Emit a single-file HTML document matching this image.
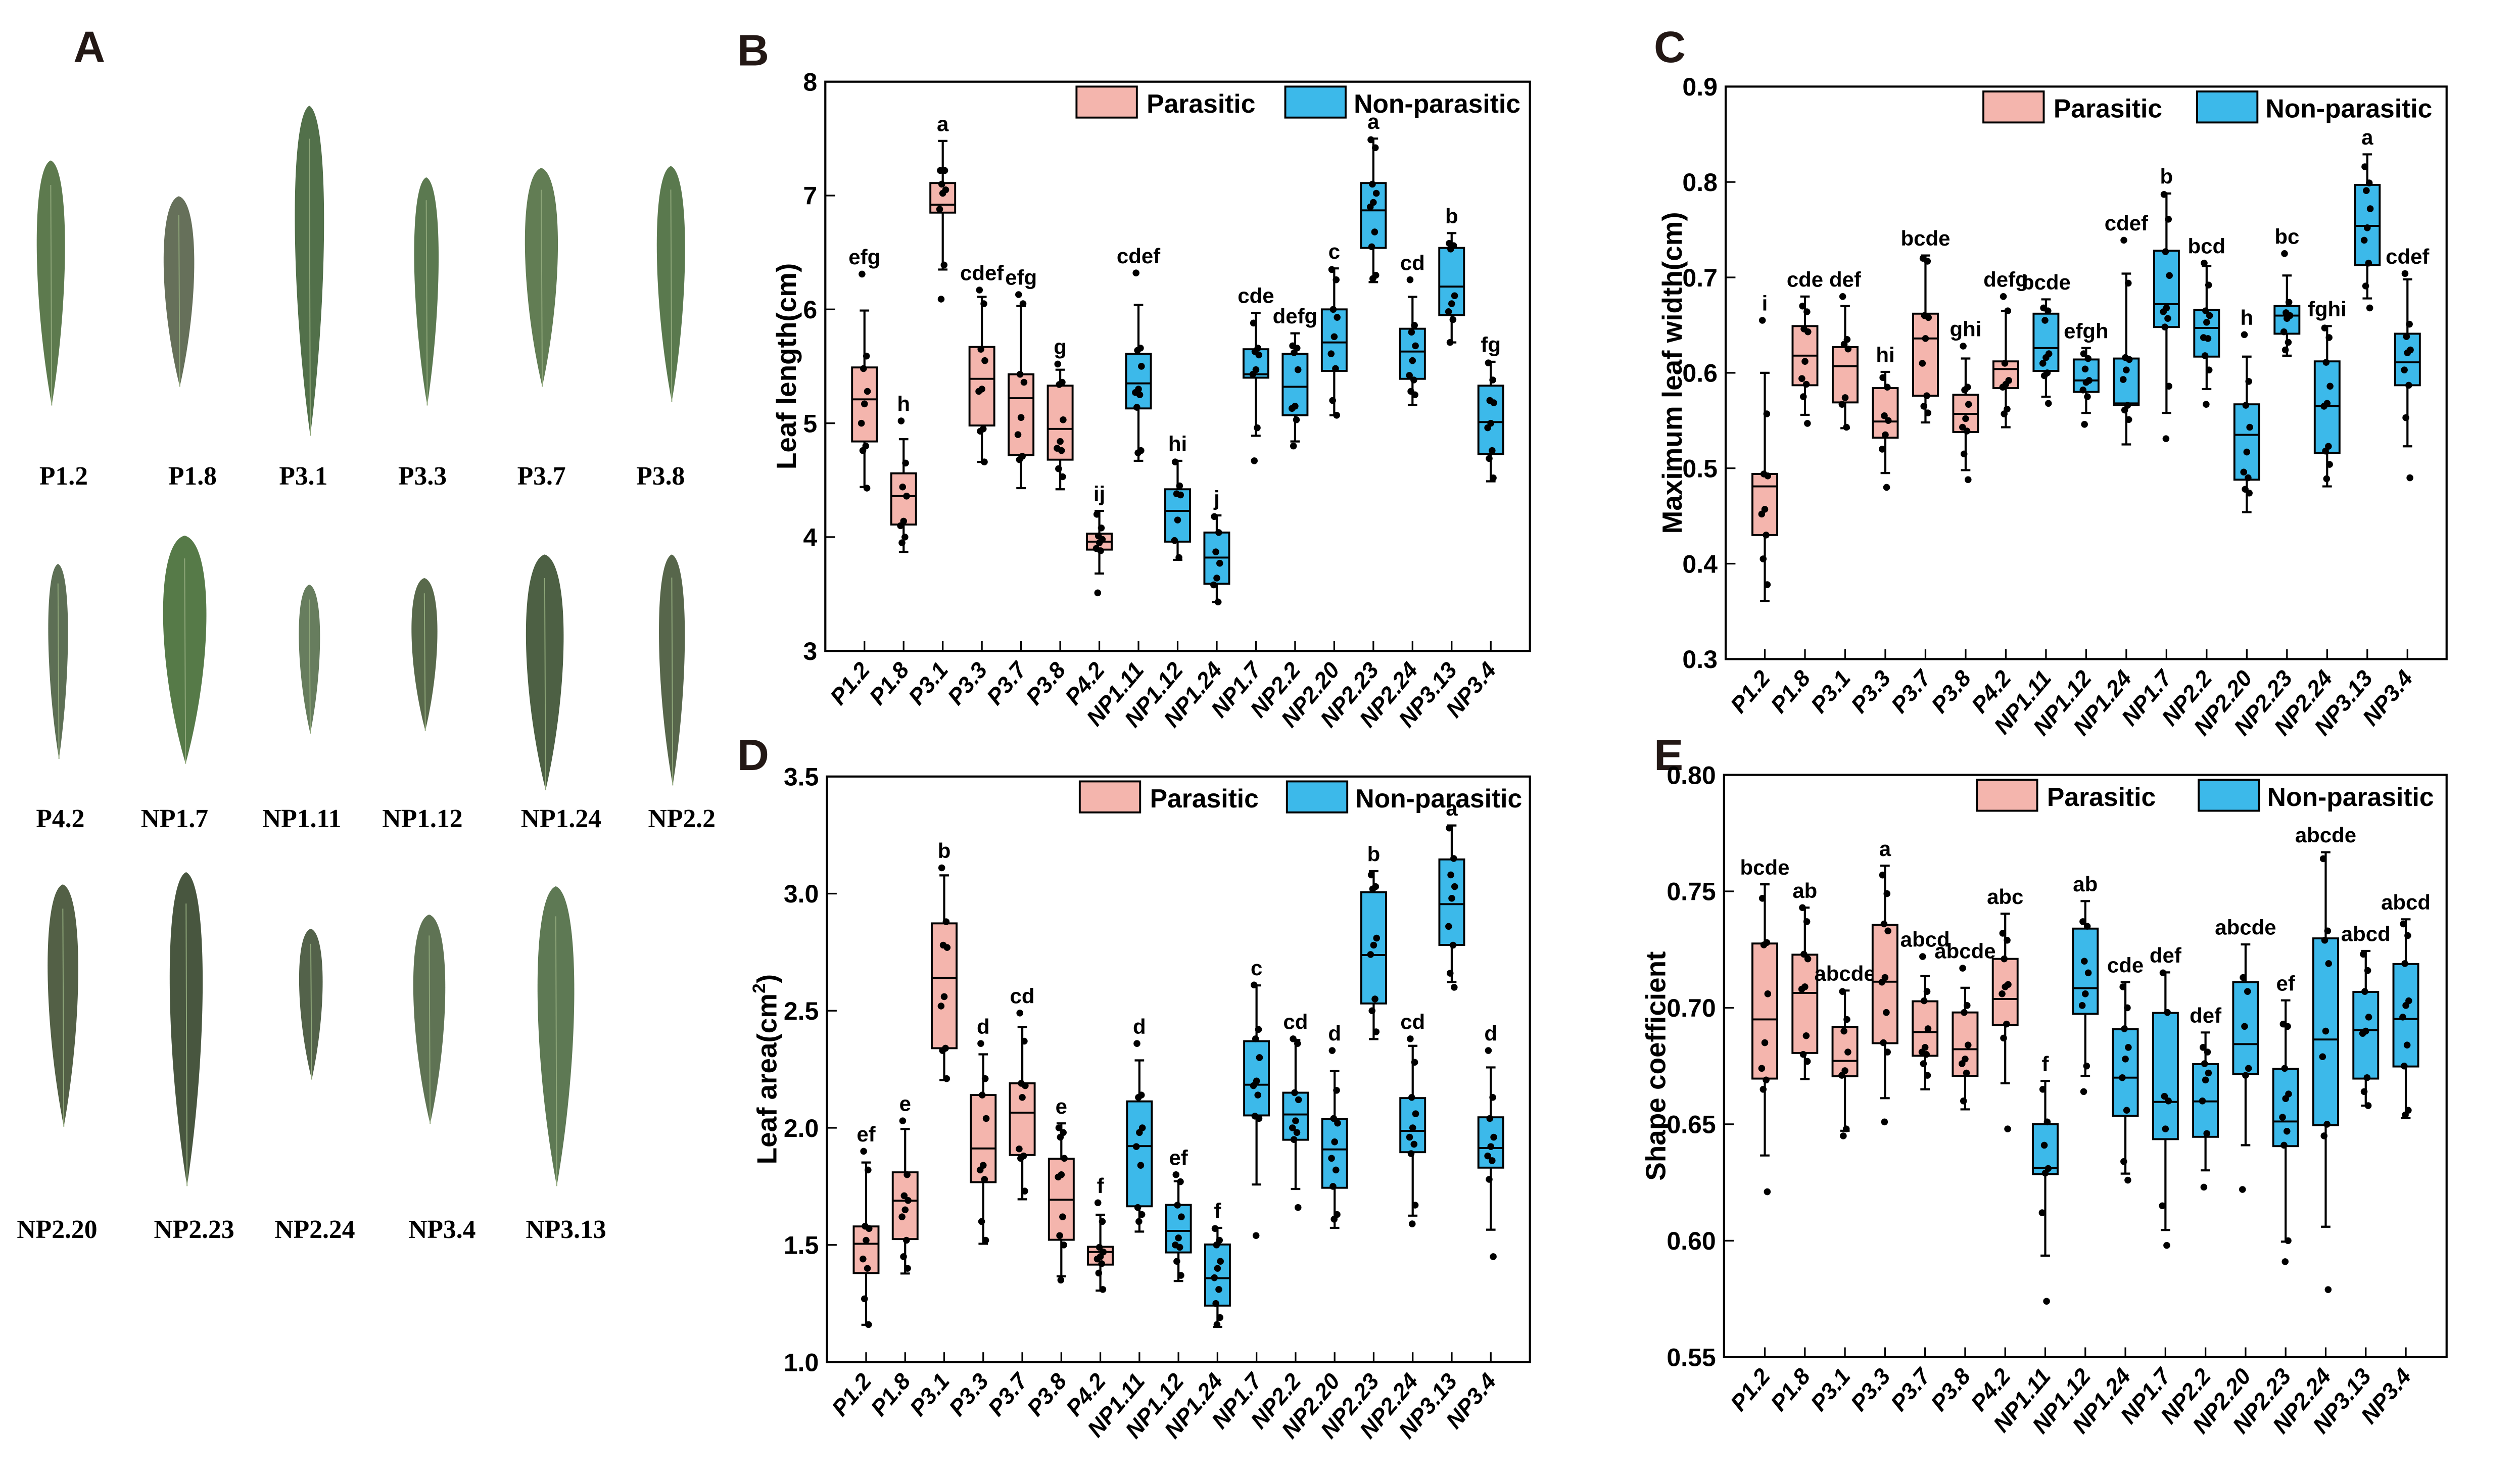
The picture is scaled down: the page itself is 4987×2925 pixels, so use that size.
<!DOCTYPE html>
<html><head><meta charset="utf-8"><style>
html,body{margin:0;padding:0;background:#fff;}
svg{display:block;}
</style></head><body>
<svg id="fig" width="4987" height="2925" viewBox="0 0 1545 906" xmlns="http://www.w3.org/2000/svg" font-family="'Liberation Sans', Arial, sans-serif">
<rect width="1545" height="906" fill="#fff"/>
<g id="panelA"></g>
<g id="charts"></g>
</svg>
<script>
const NS="http://www.w3.org/2000/svg";
const cats=["P1.2","P1.8","P3.1","P3.3","P3.7","P3.8","P4.2","NP1.11","NP1.12","NP1.24","NP1.7","NP2.2","NP2.20","NP2.23","NP2.24","NP3.13","NP3.4"];
const parasitic=[1,1,1,1,1,1,1,0,0,0,0,0,0,0,0,0,0];

// Panel B: leaf length
const bQ1=[4.84,4.11,6.85,4.98,4.72,4.68,3.89,5.13,3.96,3.59,5.40,5.07,5.46,6.54,5.39,5.95,4.73];
const bMed=[5.21,4.36,6.92,5.39,5.22,4.95,3.96,5.35,4.23,3.82,5.43,5.32,5.71,6.87,5.63,6.20,5.01];
const bQ3=[5.49,4.56,7.11,5.67,5.43,5.33,4.03,5.61,4.42,4.04,5.65,5.61,6.00,7.11,5.83,6.54,5.33];
const bLo=[4.44,3.87,6.35,4.66,4.43,4.42,3.68,4.67,3.80,3.43,4.89,4.84,5.07,6.24,5.16,5.71,4.49];
const bHi=[5.99,4.86,7.48,6.11,6.03,5.47,4.23,6.04,4.67,4.19,5.97,5.79,6.36,7.50,6.11,6.67,5.54];
const bPts=[[6.31,5.59,5.48,5.28,5.17,5.0,4.8,4.76,4.43],[5.02,4.65,4.44,4.36,4.14,4.1,4.0,3.95],[7.22,7.22,7.1,7.05,7.02,6.88,6.39,6.09],[6.17,6.05,5.65,5.55,5.3,5.28,4.95,4.93,4.66],[6.13,6.05,5.43,5.36,5.05,4.9,4.71,4.68],[5.52,5.36,5.34,5.03,4.84,4.78,4.76,4.6,4.53],[4.2,4.08,4.01,3.98,3.95,3.9,3.88,3.51],[6.32,5.66,5.64,5.5,5.3,5.27,5.25,5.14,4.76,4.74],[4.66,4.45,4.38,4.37,4.15,3.97,3.82],[4.18,4.04,3.87,3.77,3.64,3.58,3.43],[5.88,5.66,5.63,5.6,5.47,5.43,4.96,4.67],[5.68,5.66,5.62,5.47,5.15,5.13,5.03,4.8],[6.35,6.26,6.0,5.93,5.76,5.61,5.48,5.2,5.07],[7.49,7.42,7.1,7.02,6.94,6.9,6.68,6.55,6.3,6.27],[6.26,5.86,5.8,5.68,5.55,5.42,5.38,5.28,5.25],[6.58,6.56,6.53,6.12,6.05,5.98,5.91,5.71],[5.53,5.38,5.2,5.18,5.0,4.96,4.76,4.69,4.52]];
const bLetters=["efg","h","a","cdef","efg","g","ij","cdef","hi","j","cde","defg","c","a","cd","b","fg"];
const bTicks=["3","4","5","6","7","8"];

// Panel C: maximum leaf width
const cQ1=[0.430,0.587,0.569,0.532,0.576,0.538,0.584,0.602,0.580,0.566,0.648,0.617,0.488,0.641,0.516,0.713,0.587];
const cMed=[0.481,0.618,0.607,0.549,0.636,0.557,0.604,0.626,0.592,0.568,0.672,0.647,0.535,0.660,0.565,0.754,0.611];
const cQ3=[0.494,0.649,0.627,0.584,0.662,0.577,0.612,0.662,0.614,0.615,0.728,0.666,0.567,0.670,0.612,0.797,0.641];
const cLo=[0.361,0.556,0.542,0.495,0.548,0.498,0.543,0.575,0.558,0.525,0.558,0.583,0.454,0.618,0.481,0.678,0.523];
const cHi=[0.600,0.680,0.670,0.601,0.723,0.615,0.665,0.677,0.626,0.704,0.788,0.712,0.617,0.702,0.649,0.829,0.698];
const cPts=[[0.655,0.557,0.494,0.492,0.457,0.452,0.43,0.405,0.378],[0.67,0.664,0.646,0.643,0.612,0.594,0.588,0.575,0.547],[0.68,0.635,0.63,0.625,0.574,0.567,0.543],[0.595,0.585,0.555,0.55,0.535,0.52,0.48],[0.72,0.717,0.66,0.658,0.636,0.61,0.576,0.565,0.558],[0.628,0.585,0.582,0.567,0.552,0.543,0.539,0.515,0.488],[0.68,0.665,0.61,0.592,0.588,0.585,0.562,0.557],[0.668,0.665,0.655,0.62,0.616,0.61,0.6,0.597,0.568],[0.62,0.615,0.604,0.592,0.59,0.582,0.575,0.546],[0.739,0.694,0.616,0.614,0.603,0.593,0.566,0.561,0.551],[0.787,0.761,0.727,0.702,0.668,0.664,0.657,0.648,0.586,0.531],[0.715,0.692,0.665,0.66,0.653,0.637,0.636,0.618,0.603,0.567],[0.64,0.591,0.566,0.543,0.517,0.496,0.49,0.478,0.474],[0.725,0.674,0.663,0.66,0.657,0.643,0.632,0.624],[0.647,0.637,0.611,0.586,0.568,0.565,0.523,0.518,0.504,0.489],[0.816,0.799,0.791,0.772,0.752,0.739,0.715,0.691,0.668],[0.704,0.651,0.638,0.624,0.621,0.603,0.587,0.553,0.49]];
const cLetters=["i","cde","def","hi","bcde","ghi","defg","bcde","efgh","cdef","b","bcd","h","bc","fghi","a","cdef"];
const cTicks=["0.3","0.4","0.5","0.6","0.7","0.8","0.9"];

// Panel D: leaf area
const dQ1=[1.38,1.525,2.34,1.768,1.884,1.522,1.416,1.665,1.468,1.241,2.053,1.949,1.744,2.531,1.896,2.781,1.83];
const dMed=[1.505,1.689,2.64,1.912,2.065,1.693,1.47,1.922,1.56,1.358,2.184,2.057,1.908,2.738,1.987,2.955,1.914];
const dQ3=[1.579,1.81,2.873,2.14,2.19,1.868,1.492,2.113,1.671,1.502,2.37,2.15,2.037,3.006,2.127,3.146,2.045];
const dLo=[1.159,1.378,2.204,1.505,1.695,1.366,1.305,1.557,1.346,1.15,1.758,1.739,1.573,2.379,1.625,2.622,1.565];
const dHi=[1.852,1.995,3.078,2.314,2.431,2.019,1.629,2.288,1.772,1.573,2.608,2.375,2.242,3.096,2.35,3.291,2.258];
const dPts=[[1.9,1.82,1.58,1.57,1.52,1.44,1.4,1.27,1.16],[2.03,1.8,1.71,1.69,1.65,1.62,1.52,1.45,1.4],[3.11,2.88,2.78,2.77,2.56,2.52,2.34,2.33,2.21],[2.36,2.21,2.14,2.04,1.84,1.82,1.78,1.6,1.52],[2.49,2.37,2.19,2.18,2.13,1.91,1.88,1.87,1.73],[2.0,1.98,1.96,1.87,1.8,1.79,1.62,1.54,1.5,1.35],[1.68,1.6,1.49,1.47,1.45,1.44,1.42,1.38,1.31],[2.36,2.14,2.13,2.0,1.98,1.92,1.84,1.66,1.63,1.6],[1.8,1.77,1.67,1.62,1.53,1.5,1.49,1.43,1.37],[1.57,1.52,1.5,1.43,1.4,1.36,1.31,1.25,1.19,1.16],[2.61,2.42,2.38,2.3,2.2,2.18,2.14,2.05,2.04,1.54],[2.38,2.36,2.15,2.12,2.03,2.0,1.98,1.95,1.66],[2.33,2.16,2.04,2.02,1.94,1.87,1.82,1.75,1.63,1.61],[3.08,3.03,3.02,2.81,2.78,2.74,2.55,2.5,2.41],[2.38,2.28,2.13,2.06,2.0,1.96,1.93,1.89,1.67,1.59],[3.28,3.15,3.08,3.03,2.98,2.86,2.78,2.66,2.6],[2.33,2.13,2.04,1.96,1.92,1.88,1.86,1.78,1.45]];
const dLetters=["ef","e","b","d","cd","e","f","d","ef","f","c","cd","d","b","cd","a","d"];
const dTicks=["1.0","1.5","2.0","2.5","3.0","3.5"];

// Panel E: shape coefficient
const eQ1=[0.6696,0.6806,0.6706,0.6848,0.6794,0.6708,0.6926,0.6286,0.6974,0.6536,0.6436,0.6446,0.6716,0.6406,0.6496,0.6696,0.6748];
const eMed=[0.695,0.7064,0.6772,0.7112,0.6896,0.6822,0.7038,0.6312,0.7084,0.67,0.6596,0.6598,0.6844,0.6512,0.6864,0.6904,0.6952];
const eQ3=[0.7276,0.7228,0.6918,0.7356,0.7028,0.698,0.721,0.65,0.734,0.6908,0.6978,0.6758,0.711,0.6738,0.7298,0.7068,0.7188];
const eLo=[0.6366,0.6694,0.6472,0.6612,0.665,0.6564,0.6676,0.5936,0.6708,0.6288,0.6046,0.6302,0.641,0.5996,0.606,0.658,0.6526];
const eHi=[0.753,0.743,0.7074,0.761,0.7136,0.7086,0.7404,0.6686,0.7458,0.711,0.7152,0.6894,0.7272,0.7032,0.7668,0.7244,0.738];
const ePts=[[0.747,0.728,0.727,0.706,0.685,0.674,0.669,0.665,0.621],[0.743,0.737,0.723,0.721,0.709,0.708,0.688,0.68,0.677],[0.707,0.695,0.69,0.681,0.673,0.671,0.648,0.645],[0.757,0.749,0.736,0.733,0.713,0.711,0.698,0.685,0.681,0.651],[0.722,0.707,0.703,0.691,0.683,0.681,0.68,0.676,0.671],[0.717,0.701,0.698,0.684,0.678,0.676,0.672,0.66],[0.732,0.729,0.721,0.71,0.709,0.706,0.693,0.687,0.648],[0.665,0.651,0.641,0.631,0.629,0.612,0.574],[0.737,0.735,0.72,0.715,0.706,0.701,0.675,0.664],[0.709,0.7,0.691,0.683,0.678,0.67,0.656,0.634,0.626],[0.715,0.698,0.662,0.66,0.648,0.615,0.598],[0.683,0.681,0.676,0.672,0.669,0.66,0.646,0.623],[0.713,0.707,0.692,0.674,0.671,0.622],[0.693,0.692,0.674,0.663,0.661,0.653,0.647,0.641,0.6,0.591],[0.764,0.733,0.729,0.719,0.69,0.679,0.65,0.645,0.579],[0.723,0.716,0.707,0.696,0.69,0.689,0.67,0.664,0.658],[0.736,0.731,0.719,0.703,0.701,0.696,0.684,0.675,0.656,0.654]];
const eLetters=["bcde","ab","abcde","a","abcd","abcde","abc","f","ab","cde","def","def","abcde","ef","abcde","abcd","abcd"];
const eTicks=["0.55","0.60","0.65","0.70","0.75","0.80"];

const PINK="#f4b5ad", BLUE="#3cb9ea";
const root=document.getElementById('charts');
function el(tag,attrs,parent){const e=document.createElementNS(NS,tag);for(const k in attrs)e.setAttribute(k,attrs[k]);(parent||root).appendChild(e);return e;}

function drawPanel(cfg){
  const g=el('g',{});
  
  
  const n=cats.length;
  const x=i=>cfg.fx+(cfg.lx-cfg.fx)*i/(n-1);
  const y=v=>cfg.y1-(v-cfg.vmin)/(cfg.vmax-cfg.vmin)*(cfg.y1-cfg.y0);
  const pl=el('text',{x:cfg.letterX,y:cfg.letterY,'font-size':27,'font-weight':'bold',fill:'#231815'},g);
  pl.textContent=cfg.letter;
  
  
  cfg.ticks.forEach(t=>{
    const v=parseFloat(t), yy=y(v);
    const tl=el('line',{x1:cfg.x0,x2:cfg.x0+6,y1:yy,y2:yy,stroke:'#000','stroke-width':1},g);
    
    
    const tx=el('text',{x:cfg.x0-5,y:yy+5.5,'font-size':15.5,'font-weight':'bold','text-anchor':'end'},g);
    tx.textContent=t;
    
    
  });
  const cy=(cfg.y0+cfg.y1)/2;
  const at=el('text',{x:cfg.titleX,y:cy,'font-size':17,'font-weight':'bold','text-anchor':'middle',transform:`rotate(-90 ${cfg.titleX} ${cy})`},g);
  if(cfg.sup){at.textContent=cfg.title;const ts=el('tspan',{'font-size':11,dy:-7},at);ts.textContent='2';const ts2=el('tspan',{dy:7},at);ts2.textContent=')';}
  else at.textContent=cfg.title;
  
  
  const hw=7.6, cap=2.9, jit=[-1.5,1.2,-0.6,1.8,0,-1.9,0.8,-1,1.5,-0.3];
  for(let i=0;i<n;i++){
    const cx=x(i);
    const bg=el('g',{},g);
    
    
    el('line',{x1:cx,x2:cx,y1:y(cfg.hi[i]),y2:y(cfg.lo[i]),stroke:'#000','stroke-width':1.3},bg);
    el('line',{x1:cx-cap,x2:cx+cap,y1:y(cfg.hi[i]),y2:y(cfg.hi[i]),stroke:'#000','stroke-width':1.3},bg);
    el('line',{x1:cx-cap,x2:cx+cap,y1:y(cfg.lo[i]),y2:y(cfg.lo[i]),stroke:'#000','stroke-width':1.3},bg);
    el('rect',{x:cx-hw,y:y(cfg.q3[i]),width:2*hw,height:Math.max(1,y(cfg.q1[i])-y(cfg.q3[i])),fill:parasitic[i]?PINK:BLUE,stroke:'#000','stroke-width':1.2},bg);
    el('line',{x1:cx-hw,x2:cx+hw,y1:y(cfg.med[i]),y2:y(cfg.med[i]),stroke:'#000','stroke-width':1.2},bg);
    let top=cfg.hi[i];
    cfg.pts[i].forEach((v,k)=>{
      const p=el('circle',{cx:cx+jit[k%jit.length],cy:y(v),r:2.1,fill:'#000'},bg);
      
      
      if(v>top)top=v;
    });
    const lt=el('text',{x:cx,y:y(top)-6,'font-size':13,'font-weight':'bold','text-anchor':'middle'},bg);
    lt.textContent=cfg.letters[i];
    
    
    const xt=el('line',{x1:cx,x2:cx,y1:cfg.y1,y2:cfg.y1-6,stroke:'#000','stroke-width':1},g);
    
    
    const xl=el('text',{x:cx+4,y:cfg.y1+12,'font-size':14,'font-weight':'bold','font-style':'italic','text-anchor':'end',transform:`rotate(-50 ${cx+4} ${cfg.y1+12})`},g);
    xl.textContent=cats[i];
    
    
  }
  const fr=el('rect',{x:cfg.x0,y:cfg.y0,width:cfg.x1-cfg.x0,height:cfg.y1-cfg.y0,fill:'none',stroke:'#000','stroke-width':1.3},g);
  
  
  const lg=el('g',{},g);
  
  
  const ly=cfg.y0+3;
  el('rect',{x:cfg.x1-cfg.lp,y:ly,width:37,height:19,fill:PINK,stroke:'#000','stroke-width':1.2},lg);
  const t1=el('text',{x:cfg.x1-cfg.lp+43,y:ly+16,'font-size':16,'font-weight':'bold'},lg);t1.textContent='Parasitic';
  
  
  el('rect',{x:cfg.x1-cfg.lb,y:ly,width:37,height:19,fill:BLUE,stroke:'#000','stroke-width':1.2},lg);
  const t2=el('text',{x:cfg.x1-cfg.lb+42,y:ly+16,'font-size':16,'font-weight':'bold'},lg);t2.textContent='Non-parasitic';
  
  
}

drawPanel({name:'leaf-length-chart',letter:'B',letterX:452,letterY:40,x0:506,x1:938,y0:50,y1:399,fx:530,lx:914,vmin:3,vmax:8,ticks:bTicks,title:'Leaf length(cm)',titleX:488,lp:278,lb:150,q1:bQ1,med:bMed,q3:bQ3,lo:bLo,hi:bHi,pts:bPts,letters:bLetters});
drawPanel({name:'max-leaf-width-chart',letter:'C',letterX:1014,letterY:38,x0:1058,x1:1500,y0:53,y1:404,fx:1082,lx:1476,vmin:0.3,vmax:0.9,ticks:cTicks,title:'Maximum leaf width(cm)',titleX:1031,lp:284,lb:153,q1:cQ1,med:cMed,q3:cQ3,lo:cLo,hi:cHi,pts:cPts,letters:cLetters});
drawPanel({name:'leaf-area-chart',letter:'D',letterX:452,letterY:472,x0:507,x1:938,y0:476,y1:835,fx:531,lx:914,vmin:1,vmax:3.5,ticks:dTicks,title:'Leaf area(cm',sup:true,titleX:476,lp:276,lb:149,q1:dQ1,med:dMed,q3:dQ3,lo:dLo,hi:dHi,pts:dPts,letters:dLetters});
drawPanel({name:'shape-coefficient-chart',letter:'E',letterX:1014,letterY:472,x0:1057,x1:1500,y0:475,y1:832,fx:1082,lx:1475,vmin:0.55,vmax:0.80,ticks:eTicks,title:'Shape coefficient',titleX:1021,lp:288,lb:152,q1:eQ1,med:eMed,q3:eQ3,lo:eLo,hi:eHi,pts:ePts,letters:eLetters});

const A=document.getElementById('panelA');
const la=el('text',{x:45,y:38,'font-size':27,'font-weight':'bold',fill:'#231815'},A);la.textContent='A';


const leafNames=["P1.2","P1.8","P3.1","P3.3","P3.7","P3.8","P4.2","NP1.7","NP1.11","NP1.12","NP1.24","NP2.2","NP2.20","NP2.23","NP2.24","NP3.4","NP3.13"];
const leafCx=[105,370,640,882,1120,1388,120,382,640,878,1127,1390,130,385,643,888,1150];
const leafTop=[170,208,112,188,178,176,598,568,620,613,588,588,938,925,985,970,940];
const leafBot=[430,410,462,430,410,426,805,810,778,775,838,833,1195,1258,1145,1192,1258];
const leafW=[60,65,62,52,70,60,42,92,45,55,80,55,65,70,50,68,78];
const labX=[39,118,186,259,332,405,37,107,185,259,344,418,35,119,193,271,347];
const labY=[292,292,292,292,292,292,502,502,502,502,502,502,754,754,754,754,754];
const leafCol=["#5d7a4e","#66705a","#52704a","#5b7950","#627d54","#5a794e","#5d6f55","#567a48","#677d5e","#58694b","#4d6044","#57664b","#536046","#48563f","#53624a","#5f7354","#5e7954"];
for(let i=0;i<leafNames.length;i++){
  const cx=leafCx[i]*0.2963, t=leafTop[i]*0.578, b=leafBot[i]*0.578, w=leafW[i]*0.2963/2, h=b-t;
  const d=`M${cx},${t} C${cx+w*1.3},${t+0.03*h} ${cx+w*1.3},${t+0.55*h} ${cx+0.6},${b} C${cx-w*1.3},${t+0.55*h} ${cx-w*1.3},${t+0.03*h} ${cx},${t} Z`;
  const lf=el('path',{d:d,fill:leafCol[i]},A);
  
  
  el('line',{x1:cx,y1:t+0.1*h,x2:cx+0.6,y2:b,stroke:'#8fa77a','stroke-width':0.6},A);
  const tx=el('text',{x:labX[i],y:labY[i]+5,'font-size':16,'font-weight':'bold','text-anchor':'middle',style:'font-family:"Liberation Serif",serif'},A);
  tx.textContent=leafNames[i];
  
  
}
</script>
</body></html>
